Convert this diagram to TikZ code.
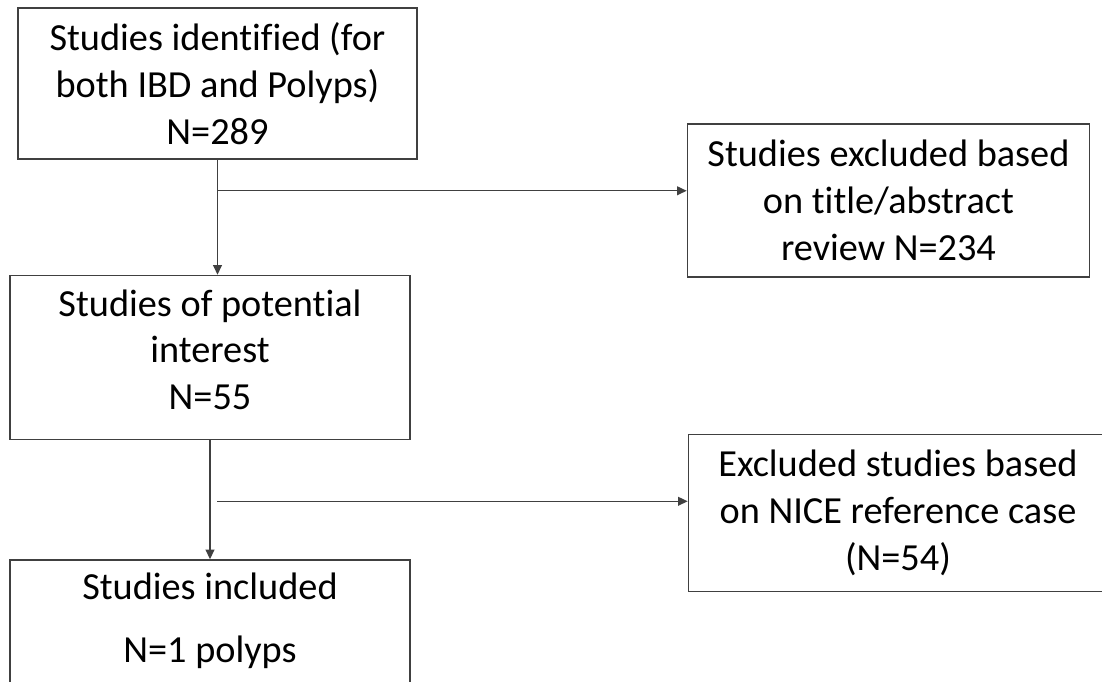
\documentclass[tikz,border=0pt]{standalone}
\usepackage{fontspec}
\setmainfont{Carlito}[Ligatures=NoCommon]
\usepackage{tikz}
\usetikzlibrary{arrows.meta, positioning, calc}
\usepackage{xcolor}

\begin{document}
\begin{tikzpicture}[
  x=0.02cm, y=-0.02cm,
  box/.style = {draw=black!75, line width=0.9pt, inner sep=0pt, align=center,
                font=\fontsize{21.8}{26.6}\selectfont},
  arr/.style = {-{Triangle[length=5.5pt, width=5pt]}, draw=black!75, line width=0.8pt},
]
\useasboundingbox (0,0) rectangle (1102,682);
\clip (0,0) rectangle (1102,682);

% ── Identified ───────────────────────────────────────────────────────────────
\node[box, minimum width=7.98cm, minimum height=3.02cm] (ident) at (217.5,83.5)
      {Studies identified (for\\both IBD and Polyps)\\N=289};
\node[box, minimum width=8.04cm, minimum height=3.06cm, right=5.38cm of ident, yshift=-2.34cm] (excl1)
      {Studies excluded based\\on title/abstract\\review N=234};

% ── Potential interest ───────────────────────────────────────────────────────
\node[box, minimum width=8cm, minimum height=3.28cm, text depth=0.32cm,
      below=2.3cm of ident, xshift=-0.15cm] (pot)
      {Studies of potential\\interest\\N=55};
\node[box, minimum width=8.38cm, minimum height=3.14cm, right=5.54cm of pot, yshift=-3.11cm] (excl2)
      {Excluded studies based\\on NICE reference case\\(N=54)};

% ── Included ─────────────────────────────────────────────────────────────────
\node[box, minimum width=8cm, minimum height=3cm, text depth=0.68cm, below=2.38cm of pot] (incl)
      {Studies included\\[0.32cm]N=1 polyps};

\coordinate[below=0.62cm of ident.south] (j1);
\coordinate[below right=1.22cm and 0.14cm of pot.south] (j2);

\draw[arr] (ident.south) -- (ident.south |- pot.north);
\draw[arr] (j1) -- (j1 -| excl1.west);
\draw[arr] (pot.south) -- (pot.south |- incl.north);
\draw[arr] (j2) -- (j2 -| excl2.west);

\end{tikzpicture}
\end{document}
